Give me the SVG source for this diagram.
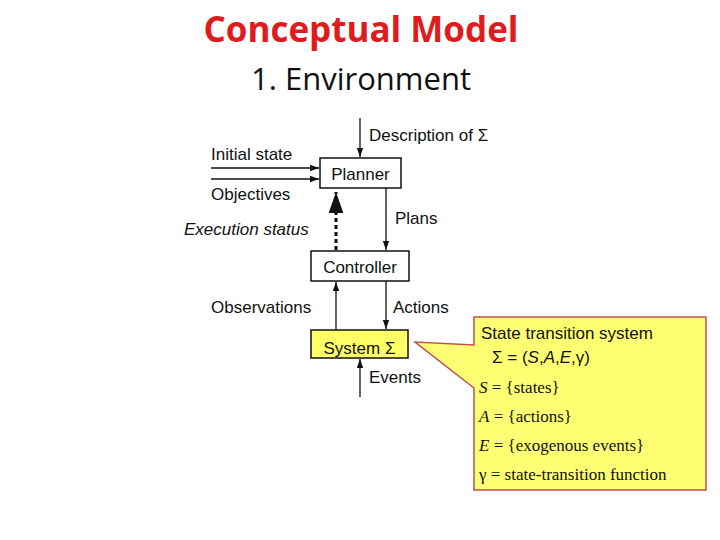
<svg xmlns="http://www.w3.org/2000/svg" width="720" height="540" viewBox="0 0 720 540">
<style>
.t{font-family:"Liberation Sans",Arial,sans-serif;font-size:17px;fill:#111}
.m{font-family:"Liberation Serif","Times New Roman",serif;font-size:17px;fill:#111}
.b{fill:#fff;stroke:#111;stroke-width:1.5}
.l{stroke:#111;stroke-width:1.3;fill:none}
</style>
<defs><marker id="a" viewBox="0 0 10 10" refX="10" refY="5" markerWidth="7" markerHeight="7" orient="auto"><path d="M0,1.5 L10,5 L0,8.5 Z" fill="#111"/></marker></defs>
<rect width="720" height="540" fill="#fff"/>
<text x="361" y="42" text-anchor="middle" font-family="'Open Sans',sans-serif" font-weight="bold" font-size="35" fill="#e01b1b">Conceptual Model</text>
<text x="361" y="90" text-anchor="middle" font-family="'Open Sans',sans-serif" font-size="31" fill="#111">1. Environment</text>
<g id="connectors">
<line class="l" x1="360" y1="118" x2="360" y2="157" marker-end="url(#a)"/>
<line class="l" x1="211" y1="168" x2="319" y2="168" marker-end="url(#a)"/>
<line class="l" x1="211" y1="179" x2="319" y2="179" marker-end="url(#a)"/>
<line x1="336" y1="250" x2="336" y2="192" stroke="#111" stroke-width="3" stroke-dasharray="4,3" marker-end="url(#a)"/>
<line class="l" x1="386" y1="188" x2="386" y2="250" marker-end="url(#a)"/>
<line class="l" x1="336" y1="330" x2="336" y2="282" marker-end="url(#a)"/>
<line class="l" x1="386" y1="281" x2="386" y2="329" marker-end="url(#a)"/>
<line class="l" x1="360" y1="397" x2="360" y2="359" marker-end="url(#a)"/>
</g>
<text class="t" x="369" y="141">Description of Σ</text>
<text class="t" x="211" y="160">Initial state</text>
<text class="t" x="211" y="200">Objectives</text>
<text class="t" x="184" y="235" font-style="italic">Execution status</text>
<text class="t" x="395" y="224">Plans</text>
<text class="t" x="211" y="313">Observations</text>
<text class="t" x="393" y="313">Actions</text>
<text class="t" x="369" y="383">Events</text>
<g id="planner"><rect class="b" x="320" y="158" width="81" height="30"/><text class="t" x="360.5" y="180" text-anchor="middle">Planner</text></g>
<g id="controller"><rect class="b" x="311" y="251" width="98" height="30"/><text class="t" x="360" y="273" text-anchor="middle">Controller</text></g>
<g id="system"><rect x="311" y="330" width="97" height="28" fill="#ffff66" stroke="#111" stroke-width="1.5"/><text class="t" x="359.5" y="354" text-anchor="middle" font-size="15">System Σ</text></g>
<g id="callout">
<path d="M474,317 H706 V490 H474 V388 L415,342 L474,345 Z" fill="#ffff73" stroke="#c0504d" stroke-width="1.5"/>
<text class="t" x="481" y="339">State transition system</text>
<text class="t" x="492" y="363">Σ = (<tspan font-style="italic">S</tspan>,<tspan font-style="italic">A</tspan>,<tspan font-style="italic">E</tspan>,γ)</text>
<text class="m" x="479" y="393"><tspan font-style="italic">S</tspan> = {states}</text>
<text class="m" x="479" y="422"><tspan font-style="italic">A</tspan> = {actions}</text>
<text class="m" x="479" y="451"><tspan font-style="italic">E</tspan> = {exogenous events}</text>
<text class="m" x="479" y="480">γ = state-transition function</text>
</g>
</svg>
